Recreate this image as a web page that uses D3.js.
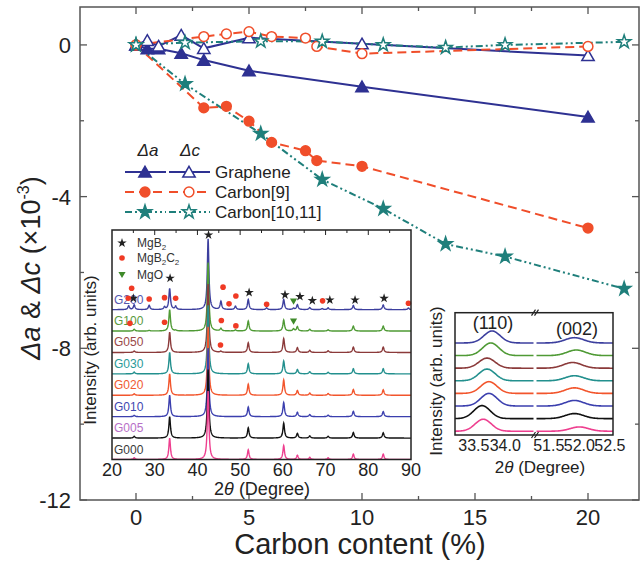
<!DOCTYPE html>
<html><head><meta charset="utf-8">
<script src="https://cdn.jsdelivr.net/npm/d3@7"></script>
<style>body{margin:0;background:#fff}svg{display:block}text{font-family:"Liberation Sans",Arial,Helvetica,sans-serif}</style>
</head><body><svg id="c" width="640" height="561"></svg>
<script>
// ---------- main chart data ----------
const grapheneX = [0, 0.5, 1, 2, 3, 5, 10, 20];
const grapheneA = [0, -0.1, -0.1, -0.22, -0.4, -0.68, -1.1, -1.9];
const grapheneC = [0, 0.12, -0.03, 0.26, -0.09, 0.19, 0.03, -0.28];
const carbon9X = [0, 3, 4, 5, 6, 7.5, 8, 10, 20];
const carbon9A = [0, -1.66, -1.62, -2.01, -2.57, -2.79, -3.05, -3.2, -4.83];
const carbon9C = [0, 0.22, 0.29, 0.35, 0.22, 0.18, -0.04, -0.23, -0.04];
const carbon1011X = [0, 2.17, 5.52, 8.24, 10.94, 13.7, 16.33, 21.6];
const carbon1011A = [0, -1.03, -2.34, -3.55, -4.32, -5.25, -5.58, -6.43];
const carbon1011C = [0, 0.06, 0.1, 0.09, 0, -0.07, 0, 0.08];
const xTicks = [0, 5, 10, 15, 20];
const xMinor = [2.5, 7.5, 12.5, 17.5];
const yTicks = [0, -4, -8, -12];
const yMinor = [-2, -6, -10];

// ---------- inset 1 (XRD) data ----------
const xrdSamples = ["G000", "G005", "G010", "G020", "G030", "G050", "G100", "G200"];
const xrdPeakPos = [23.9, 25.2, 28.7, 32.3, 33.5, 34.9, 42.5, 45.5, 48.9, 51.9, 56.2, 60.2, 62.5, 63.4, 66.3, 69.2, 70.6, 76.5, 83.5, 89.4];
const xrdPeakH = [
  [0, 0.08, 0, 0, 1.0, 0, 3.2, 0, 0, 0.45, 0, 0.65, 0, 0.2, 0.1, 0, 0.08, 0.25, 0.25, 0],
  [0, 0.08, 0, 0, 1.0, 0, 3.2, 0, 0, 0.48, 0, 0.7, 0, 0.22, 0.1, 0, 0.08, 0.26, 0.25, 0],
  [0, 0.06, 0, 0, 1.0, 0, 3.2, 0, 0, 0.45, 0, 0.66, 0, 0.2, 0.1, 0, 0.07, 0.25, 0.24, 0],
  [0, 0.07, 0, 0, 1.0, 0, 3.2, 0, 0, 0.52, 0, 0.72, 0, 0.22, 0.1, 0, 0.08, 0.27, 0.26, 0],
  [0, 0.08, 0, 0, 1.0, 0, 3.2, 0, 0, 0.47, 0, 0.6, 0, 0.2, 0.1, 0, 0.07, 0.24, 0.24, 0],
  [0, 0.07, 0, 0, 0.95, 0, 3.2, 0.05, 0, 0.45, 0, 0.65, 0, 0.22, 0.1, 0, 0.08, 0.25, 0.25, 0],
  [0, 0.08, 0.03, 0, 1.0, 0.03, 3.2, 0.12, 0.05, 0.47, 0, 0.52, 0.1, 0.2, 0.08, 0, 0.06, 0.23, 0.23, 0],
  [0.18, 0.22, 0.2, 0.12, 0.98, 0.15, 3.3, 0.38, 0.16, 0.47, 0.08, 0.47, 0.06, 0.23, 0.1, 0.05, 0.08, 0.19, 0.22, 0.08]
];
const xrdTicks = [20, 30, 40, 50, 60, 70, 80, 90];
const mgb2Marks = [[25.0, 7.53], [33.6, 8.47], [42.6, 10.49], [52.1, 7.8], [60.5, 7.69], [64.0, 7.61], [66.9, 7.42], [71.0, 7.45], [76.9, 7.45], [83.7, 7.53]];
const mgb2c2Marks = [[23.8, 7.53], [24.6, 8.0], [28.7, 7.5], [32.3, 7.56], [34.9, 7.53], [46.0, 8.05], [47.4, 7.27], [49.0, 7.64], [56.2, 7.25], [69.3, 7.41], [89.4, 7.3],
  [24.2, 6.36], [32.3, 6.41], [45.6, 6.49], [49.0, 6.24], [45.4, 5.35]];
const mgoMarks = [[62.5, 7.42], [62.5, 6.49]];

// ---------- inset 2 (zoomed peaks) data ----------
const pos110 = [33.65, 33.63, 33.74, 33.74, 33.71, 33.71, 33.77, 33.79];
const h110 = [0.95, 1.03, 1.0, 0.93, 0.93, 0.8, 1.0, 0.95];
const pos002 = [52.0, 51.92, 51.92, 51.92, 51.92, 51.89, 51.95, 51.92];
const h002 = [0.34, 0.4, 0.44, 0.44, 0.4, 0.45, 0.44, 0.42];
const leftTicks = [33.5, 34.0];
const rightTicks = [51.5, 52.0, 52.5];

// ---------- styles ----------
const NAVY = "#2e3192", RED = "#f04e2a", TEAL = "#1f7f7b";
const traceColors = ["#ee3f8f", "#111111", "#3b3fae", "#f2552c", "#23908e", "#8b3a3a", "#4f9a35", "#3c3f9e"];
const labelColors = ["#3a3a3a", "#b76fc8", "#4046b0", "#f05a32", "#2a9a98", "#9a4848", "#5a9a3e", "#5558b0"];

const svg = d3.select("#c");
const x = d3.scaleLinear().domain([-2.5, 22.5]).range([79.5, 644.5]);
const y = d3.scaleLinear().domain([-12, 1]).range([500, 7]);
const L = 80, R = 639, T = 7, B = 500;

// frame
svg.append("rect").attr("x", L).attr("y", T).attr("width", R - L).attr("height", B - T)
  .attr("fill", "none").attr("stroke", "#555").attr("stroke-width", 1.5);
const tk = svg.append("g").attr("stroke", "#555").attr("stroke-width", 1.3);
xTicks.forEach(v => { tk.append("line").attr("x1", x(v)).attr("x2", x(v)).attr("y1", B).attr("y2", B - 7);
  tk.append("line").attr("x1", x(v)).attr("x2", x(v)).attr("y1", T).attr("y2", T + 7); });
xMinor.forEach(v => { tk.append("line").attr("x1", x(v)).attr("x2", x(v)).attr("y1", B).attr("y2", B - 4);
  tk.append("line").attr("x1", x(v)).attr("x2", x(v)).attr("y1", T).attr("y2", T + 4); });
yTicks.forEach(v => { tk.append("line").attr("x1", L).attr("x2", L + 7).attr("y1", y(v)).attr("y2", y(v));
  tk.append("line").attr("x1", R).attr("x2", R - 7).attr("y1", y(v)).attr("y2", y(v)); });
yMinor.forEach(v => { tk.append("line").attr("x1", L).attr("x2", L + 4).attr("y1", y(v)).attr("y2", y(v));
  tk.append("line").attr("x1", R).attr("x2", R - 4).attr("y1", y(v)).attr("y2", y(v)); });
xTicks.forEach(v => svg.append("text").attr("x", x(v)).attr("y", 525).attr("text-anchor", "middle")
  .attr("font-size", 22).attr("fill", "#222").text(v));
yTicks.forEach(v => svg.append("text").attr("x", 71).attr("y", y(v) + 8).attr("text-anchor", "end")
  .attr("font-size", 22).attr("fill", "#222").text(v));
svg.append("text").attr("x", 360).attr("y", 554).attr("text-anchor", "middle").attr("font-size", 29)
  .attr("fill", "#222").text("Carbon content (%)");
const yt = svg.append("text").attr("transform", "translate(40,268) rotate(-90)").attr("text-anchor", "middle")
  .attr("font-size", 27).attr("fill", "#222");
yt.append("tspan").attr("font-style", "italic").text("Δa");
yt.append("tspan").text(" & ");
yt.append("tspan").attr("font-style", "italic").text("Δc");
yt.append("tspan").text(" (×10");
yt.append("tspan").attr("font-size", 16).attr("dy", -11).text("-3");
yt.append("tspan").attr("dy", 11).text(")");

// series
const series = [
  { xs: grapheneX, ys: grapheneA, color: NAVY, dash: null, sym: d3.symbolTriangle, size: 66, open: false },
  { xs: grapheneX, ys: grapheneC, color: NAVY, dash: null, sym: d3.symbolTriangle, size: 66, open: true },
  { xs: carbon9X, ys: carbon9A, color: RED, dash: "9,5", sym: d3.symbolCircle, size: 75, open: false },
  { xs: carbon9X, ys: carbon9C, color: RED, dash: "9,5", sym: d3.symbolCircle, size: 75, open: true },
  { xs: carbon1011X, ys: carbon1011A, color: TEAL, dash: "7,3,2,3,2,3", sym: d3.symbolStar, size: 55, open: false },
  { xs: carbon1011X, ys: carbon1011C, color: TEAL, dash: "7,3,2,3,2,3", sym: d3.symbolStar, size: 55, open: true }
];
const line = d3.line().x(d => x(d[0])).y(d => y(d[1]));
series.forEach(s => {
  const pts = s.xs.map((v, i) => [v, s.ys[i]]);
  svg.append("path").attr("d", line(pts)).attr("fill", "none").attr("stroke", s.color)
    .attr("stroke-width", 2).attr("stroke-dasharray", s.dash);
});
series.forEach(s => {
  const pts = s.xs.map((v, i) => [v, s.ys[i]]);
  svg.selectAll(null).data(pts).enter().append("path")
    .attr("d", d3.symbol().type(s.sym).size(s.size))
    .attr("transform", d => `translate(${x(d[0])},${y(d[1]) + (s.sym === d3.symbolTriangle ? 1.5 : 0)})`)
    .attr("fill", s.open ? "#fff" : s.color).attr("stroke", s.color).attr("stroke-width", 1.5);
});

// legend
const lg = svg.append("g");
lg.append("text").attr("x", 148).attr("y", 156).attr("text-anchor", "middle").attr("font-size", 17)
  .attr("font-style", "italic").attr("fill", "#222").text("Δa");
lg.append("text").attr("x", 190).attr("y", 156).attr("text-anchor", "middle").attr("font-size", 17)
  .attr("font-style", "italic").attr("fill", "#222").text("Δc");
const legendRows = [
  { name: "Graphene", s: [series[0], series[1]], y: 172 },
  { name: "Carbon[9]", s: [series[2], series[3]], y: 192 },
  { name: "Carbon[10,11]", s: [series[4], series[5]], y: 212 }
];
legendRows.forEach(r => {
  [[125, 166, 145], [169, 210, 189]].forEach((seg, j) => {
    const s = r.s[j];
    lg.append("line").attr("x1", seg[0]).attr("x2", seg[1]).attr("y1", r.y).attr("y2", r.y)
      .attr("stroke", s.color).attr("stroke-width", 2).attr("stroke-dasharray", s.dash);
    lg.append("path").attr("d", d3.symbol().type(s.sym).size(s.size))
      .attr("transform", `translate(${seg[2]},${r.y + (s.sym === d3.symbolTriangle ? 1.5 : 0)})`)
      .attr("fill", s.open ? "#fff" : s.color).attr("stroke", s.color).attr("stroke-width", 1.5);
  });
  lg.append("text").attr("x", 215).attr("y", r.y + 6).attr("font-size", 17).attr("fill", "#222").text(r.name);
});

// ---------- inset 1 ----------
const i1 = { l: 112, r: 411, t: 230, b: 459.5 };
const xi = d3.scaleLinear().domain([20, 90]).range([i1.l, i1.r]);
const yi = d3.scaleLinear().domain([0, 10.72]).range([i1.b, i1.t]);
svg.append("rect").attr("x", i1.l).attr("y", i1.t).attr("width", i1.r - i1.l).attr("height", i1.b - i1.t).attr("fill", "#fff");
svg.append("clipPath").attr("id", "clip1").append("rect").attr("x", i1.l).attr("y", i1.t - 2)
  .attr("width", i1.r - i1.l).attr("height", i1.b - i1.t + 2);
const g1 = svg.append("g").attr("clip-path", "url(#clip1)");
const grid = d3.range(20, 90.001, 0.05);
for (let i = xrdSamples.length - 1; i >= 0; i--) {
  const pts = grid.map(t => {
    let s = 0;
    xrdPeakPos.forEach((p, k) => { const h = xrdPeakH[i][k]; if (h) s += h / (1 + ((t - p) / 0.22) ** 2); });
    return [t, i + s];
  });
  g1.append("path").attr("d", d3.line().x(d => xi(d[0])).y(d => yi(d[1]))(pts))
    .attr("fill", "none").attr("stroke", traceColors[i]).attr("stroke-width", 1.4);
}
xrdSamples.forEach((n, i) => svg.append("text").attr("x", i1.l + 2).attr("y", yi(i) - 6)
  .attr("font-size", 12).attr("fill", labelColors[i]).text(n));
svg.selectAll(null).data(mgb2Marks).enter().append("path").attr("d", d3.symbol().type(d3.symbolStar).size(28))
  .attr("transform", d => `translate(${xi(d[0])},${yi(d[1])})`).attr("fill", "#222");
svg.selectAll(null).data(mgb2c2Marks).enter().append("circle").attr("r", 2.8)
  .attr("cx", d => xi(d[0])).attr("cy", d => yi(d[1])).attr("fill", "#f03a24");
svg.selectAll(null).data(mgoMarks).enter().append("path").attr("d", d3.symbol().type(d3.symbolTriangle).size(22))
  .attr("transform", d => `translate(${xi(d[0])},${yi(d[1])}) rotate(180)`).attr("fill", "#3f8a2a");
// inset1 legend
svg.append("path").attr("d", d3.symbol().type(d3.symbolStar).size(28)).attr("transform", "translate(122,243)").attr("fill", "#222");
svg.append("circle").attr("cx", 122).attr("cy", 258).attr("r", 2.8).attr("fill", "#f03a24");
svg.append("path").attr("d", d3.symbol().type(d3.symbolTriangle).size(22)).attr("transform", "translate(122,274) rotate(180)").attr("fill", "#3f8a2a");
const lt1 = svg.append("text").attr("x", 137).attr("y", 247).attr("font-size", 12).attr("fill", "#333");
lt1.append("tspan").text("MgB"); lt1.append("tspan").attr("font-size", 8).attr("dy", 3).text("2");
const lt2 = svg.append("text").attr("x", 137).attr("y", 262).attr("font-size", 12).attr("fill", "#333");
lt2.append("tspan").text("MgB"); lt2.append("tspan").attr("font-size", 8).attr("dy", 3).text("2");
lt2.append("tspan").attr("dy", -3).text("C"); lt2.append("tspan").attr("font-size", 8).attr("dy", 3).text("2");
svg.append("text").attr("x", 137).attr("y", 279).attr("font-size", 12).attr("fill", "#333").text("MgO");
// inset1 frame & ticks
svg.append("rect").attr("x", i1.l).attr("y", i1.t).attr("width", i1.r - i1.l).attr("height", i1.b - i1.t)
  .attr("fill", "none").attr("stroke", "#222").attr("stroke-width", 1.5);
d3.range(25, 90, 5).forEach(v => {
  svg.append("line").attr("x1", xi(v)).attr("x2", xi(v)).attr("y1", i1.t).attr("y2", i1.t + (v % 10 === 0 ? 5 : 3)).attr("stroke", "#222");
});
xrdTicks.forEach(v => svg.append("text").attr("x", xi(v)).attr("y", 476).attr("text-anchor", "middle")
  .attr("font-size", 18).attr("fill", "#222").text(v));
const t1 = svg.append("text").attr("x", 262).attr("y", 495).attr("text-anchor", "middle").attr("font-size", 18).attr("fill", "#222");
t1.append("tspan").text("2"); t1.append("tspan").attr("font-style", "italic").text("θ"); t1.append("tspan").text(" (Degree)");
svg.append("text").attr("transform", "translate(96,350) rotate(-90)").attr("text-anchor", "middle")
  .attr("font-size", 17).attr("fill", "#222").text("Intensity (arb. units)");

// ---------- inset 2 ----------
const i2 = { l: 455, r: 613, t: 312.7, b: 435 };
const xl = d3.scaleLinear().domain([33.2, 34.45]).range([i2.l, 533.5]);
const xr = d3.scaleLinear().domain([51.3, 52.55]).range([536.5, i2.r]);
const y2 = d3.scaleLinear().domain([0, 9.7]).range([i2.b, i2.t]);
svg.append("rect").attr("x", i2.l).attr("y", i2.t).attr("width", i2.r - i2.l).attr("height", i2.b - i2.t).attr("fill", "#fff");
for (let i = 0; i < 8; i++) {
  const base = 0.3 + i;
  const lp = d3.range(33.2, 34.451, 0.01).map(t => [xl(t), y2(base + h110[i] * Math.exp(-0.5 * ((t - pos110[i]) / 0.13) ** 2))]);
  const rp = d3.range(51.3, 52.551, 0.01).map(t => [xr(t), y2(base + h002[i] * Math.exp(-0.5 * ((t - pos002[i]) / 0.15) ** 2))]);
  [lp, rp].forEach(p => svg.append("path").attr("d", d3.line()(p)).attr("fill", "none")
    .attr("stroke", traceColors[i]).attr("stroke-width", 1.6));
}
svg.append("rect").attr("x", i2.l).attr("y", i2.t).attr("width", i2.r - i2.l).attr("height", i2.b - i2.t)
  .attr("fill", "none").attr("stroke", "#222").attr("stroke-width", 1.5);
[i2.t, i2.b].forEach(yy => {
  [-1.5, 1.5].forEach(o => svg.append("line").attr("x1", 533 + o).attr("x2", 537 + o).attr("y1", yy + 3).attr("y2", yy - 3)
    .attr("stroke", "#222").attr("stroke-width", 1.2));
});
leftTicks.forEach(v => svg.append("text").attr("x", xl(v)).attr("y", 451).attr("text-anchor", "middle")
  .attr("font-size", 16).attr("fill", "#222").text(v.toFixed(1)));
rightTicks.forEach(v => svg.append("text").attr("x", xr(v)).attr("y", 451).attr("text-anchor", "middle")
  .attr("font-size", 16).attr("fill", "#222").text(v.toFixed(1)));
const t2 = svg.append("text").attr("x", 540).attr("y", 473).attr("text-anchor", "middle").attr("font-size", 17).attr("fill", "#222");
t2.append("tspan").text("2"); t2.append("tspan").attr("font-style", "italic").text("θ"); t2.append("tspan").text(" (Degree)");
svg.append("text").attr("transform", "translate(442,381) rotate(-90)").attr("text-anchor", "middle")
  .attr("font-size", 17).attr("fill", "#222").text("Intensity (arb. units)");
svg.append("text").attr("x", 493).attr("y", 329).attr("text-anchor", "middle").attr("font-size", 18).attr("fill", "#222").text("(110)");
svg.append("text").attr("x", 577).attr("y", 335).attr("text-anchor", "middle").attr("font-size", 18).attr("fill", "#222").text("(002)");
</script></body></html>
